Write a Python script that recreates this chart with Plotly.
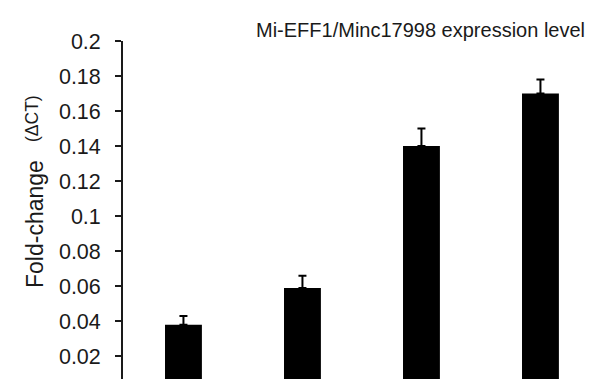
import plotly.graph_objects as go

categories = ["A", "B", "C", "D"]
values = [0.038, 0.059, 0.140, 0.170]
errors = [0.005, 0.007, 0.010, 0.008]
tick_vals = [0.02, 0.04, 0.06, 0.08, 0.1, 0.12, 0.14, 0.16, 0.18, 0.2]
tick_text = ["0.02", "0.04", "0.06", "0.08", "0.1", "0.12", "0.14", "0.16", "0.18", "0.2"]
title_text = "Mi-EFF1/Minc17998 expression level"

# page body has an 8px margin; work in screen pixels and shift
OFF = 8
W, H = 594 - OFF, 379 - OFF
L, R, T, B = 123 - OFF, 0, 41 - OFF, 0
pw, ph = W - L - R, H - T - B

def px_x(x):
    return (x - OFF - L) / pw

def px_y(y):
    return (H - B - (y - OFF)) / ph

fig = go.Figure()
fig.add_trace(go.Bar(
    x=list(range(len(categories))),
    y=values,
    width=0.31,
    marker=dict(color="black", line=dict(width=0)),
    error_y=dict(type="data", array=errors, arrayminus=[0] * len(errors),
                 symmetric=False, color="black", thickness=2, width=4),
))

fig.update_layout(
    width=W, height=H,
    margin=dict(l=L, r=R, t=T, b=B, pad=0),
    paper_bgcolor="white", plot_bgcolor="white",
    showlegend=False,
    font=dict(family="Liberation Sans, Arial, sans-serif", color="#1a1a1a"),
    xaxis=dict(range=[-0.508, 3.45], showticklabels=False, ticks="",
               showgrid=False, zeroline=False, showline=False),
    yaxis=dict(range=[0.007, 0.2], tickvals=tick_vals, ticktext=tick_text,
               ticks="outside", ticklen=6, tickwidth=1.6, tickcolor="#1a1a1a",
               showline=True, linecolor="#1a1a1a", linewidth=1.8,
               showgrid=False, zeroline=False,
               tickfont=dict(size=21.5, color="#1a1a1a"),
               ticklabelstandoff=10),
    annotations=[
        dict(text=title_text, xref="paper", yref="paper",
             x=px_x(420), y=px_y(30), xanchor="center", yanchor="middle",
             showarrow=False, font=dict(size=20, color="#1a1a1a")),
        dict(text="Fold-change", xref="paper", yref="paper",
             x=px_x(35), y=px_y(224), xanchor="center", yanchor="middle",
             textangle=-90, showarrow=False, font=dict(size=23, color="#1a1a1a")),
        dict(text="(ΔCT)", xref="paper", yref="paper",
             x=px_x(32), y=px_y(119), xanchor="center", yanchor="middle",
             textangle=-90, showarrow=False, font=dict(size=17.5, color="#1a1a1a")),
    ],
)

fig.write_html("out.html")
